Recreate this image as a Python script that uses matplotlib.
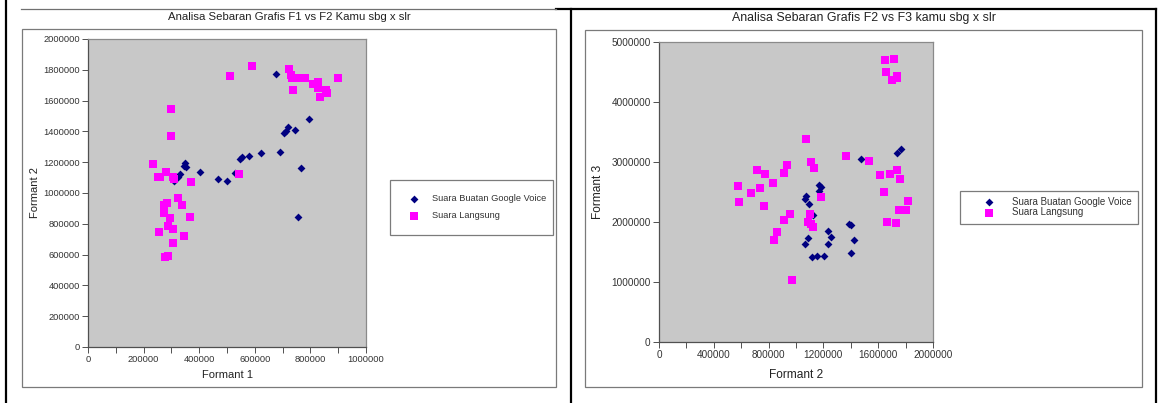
import numpy as np
import matplotlib.pyplot as plt
from matplotlib.lines import Line2D
from matplotlib.patches import Rectangle
from matplotlib.ticker import MultipleLocator, FormatStrFormatter

plt.rcParams['font.family'] = ['Liberation Sans', 'DejaVu Sans']

# ── F1 vs F2 (Kamu, sbg x slr) ────────────────────────────────────────────
google_f1 = [676000, 795000, 720000, 711000, 706000, 745000, 692000, 621000,
             578000, 555000, 548000, 766000, 528000, 501000, 466000, 402000,
             350000, 345000, 354000, 331000, 322000, 308000, 757000]
google_f2 = [1773000, 1481000, 1427000, 1403000, 1388000, 1407000, 1266000, 1262000,
             1242000, 1236000, 1219000, 1164000, 1130000, 1075000, 1091000, 1138000,
             1193000, 1177000, 1167000, 1123000, 1106000, 1075000, 847000]

langsung_f1 = [511000, 590000, 722000, 731000, 735000, 753000, 779000, 811000,
               828000, 827000, 835000, 855000, 861000, 899000, 739000, 299000,
               300000, 235000, 250000, 258000, 281000, 304000, 310000, 372000,
               544000, 325000, 339000, 272000, 283000, 275000, 295000, 368000,
               256000, 289000, 307000, 345000, 305000, 277000, 289000]
langsung_f2 = [1758000, 1823000, 1807000, 1766000, 1747000, 1747000, 1747000, 1710000,
               1723000, 1680000, 1621000, 1667000, 1649000, 1747000, 1671000, 1543000,
               1370000, 1188000, 1104000, 1104000, 1138000, 1106000, 1089000, 1074000,
               1125000, 970000, 925000, 922000, 937000, 867000, 840000, 844000,
               749000, 786000, 768000, 723000, 677000, 586000, 593000]

# ── F2 vs F3 ──────────────────────────────────────────────────────────────
google_x2 = [1472000, 1737000, 1766000, 1165000, 1182000, 1165000, 1075000, 1068000,
             1097000, 1122000, 1387000, 1401000, 1236000, 1258000, 1236000, 1085000,
             1066000, 1423000, 1119000, 1151000, 1207000, 1399000]
google_f3 = [3050000, 3144000, 3217000, 2622000, 2583000, 2522000, 2433000, 2383000,
             2300000, 2111000, 1961000, 1956000, 1850000, 1750000, 1639000, 1739000,
             1639000, 1706000, 1417000, 1433000, 1433000, 1483000]

langsung_x2 = [1652000, 1718000, 1657000, 1701000, 1737000, 1740000, 1071000, 1365000,
               1535000, 1107000, 1134000, 934000, 915000, 718000, 776000, 835000,
               579000, 740000, 672000, 586000, 764000, 1185000, 954000, 915000,
               1100000, 1090000, 1109000, 1127000, 861000, 839000, 968000, 1611000,
               1684000, 1737000, 1759000, 1645000, 1820000, 1754000, 1801000, 1662000,
               1732000]
langsung_f3 = [4706000, 4711000, 4506000, 4361000, 4440000, 4400000, 3378000, 3094000,
               3022000, 3006000, 2906000, 2950000, 2822000, 2867000, 2800000, 2650000,
               2606000, 2572000, 2478000, 2333000, 2267000, 2411000, 2128000, 2039000,
               2139000, 1994000, 1961000, 1922000, 1833000, 1700000, 1028000, 2783000,
               2800000, 2861000, 2722000, 2500000, 2356000, 2194000, 2206000, 2000000,
               1978000]

labels = ['Suara Buatan Google Voice', 'Suara Langsung']

W, H = 1160, 403
fig = plt.figure(figsize=(W / 100, H / 100), dpi=100)


def rect(x0, y0, x1, y1):
    # pixel box (top-left origin) -> figure fraction
    return [x0 / W, 1 - y1 / H, (x1 - x0) / W, (y1 - y0) / H]


def fx(x):
    return x / W


def fy(y):
    return 1 - y / H


# table borders around the two cells
for xs, ys, c, lw in [([fx(6), fx(6)], [fy(0), fy(403)], 'black', 1.6),
                      ([fx(571), fx(571)], [fy(8.7), fy(403)], 'black', 1.6),
                      ([fx(1156), fx(1156)], [fy(8.7), fy(403)], 'black', 1.6),
                      ([fx(556), fx(1156)], [fy(8.7), fy(8.7)], 'black', 1.6),
                      ([fx(21), fx(556)], [fy(8.7), fy(8.7)], '#707070', 0.9)]:
    fig.add_artist(Line2D(xs, ys, color=c, lw=lw, transform=fig.transFigure))

# chart area frames
for x0, y0, x1, y1 in [(21.7, 28.7, 555.7, 386.7), (585, 30, 1142, 386.7)]:
    b = rect(x0, y0, x1, y1)
    fig.add_artist(Rectangle((b[0], b[1]), b[2], b[3], transform=fig.transFigure,
                             facecolor='white', edgecolor='#7a7a7a', lw=0.9, zorder=0))


def style_axes(ax, tick_fs):
    ax.set_facecolor('#c8c8c8')
    for side in ['top', 'right']:
        ax.spines[side].set_color('#8a8a8a')
    for side in ['left', 'bottom']:
        ax.spines[side].set_color('#505050')
    for s in ax.spines.values():
        s.set_linewidth(0.9)
    ax.tick_params(which='both', direction='out', length=4, width=0.7,
                   color='#505050', labelsize=tick_fs, labelcolor='#333333', pad=2)
    ax.xaxis.set_major_formatter(FormatStrFormatter('%d'))
    ax.yaxis.set_major_formatter(FormatStrFormatter('%d'))


def add_legend(ax, anchor, fs, bp, ls, hl, htp):
    leg = ax.legend(labels, loc='upper left', bbox_to_anchor=anchor,
                    bbox_transform=fig.transFigure, mode='expand', fontsize=fs,
                    frameon=True, fancybox=False, borderpad=bp, labelspacing=ls,
                    handlelength=hl, handletextpad=htp, borderaxespad=0,
                    scatterpoints=1)
    leg.get_frame().set_edgecolor('#5a5a5a')
    leg.get_frame().set_linewidth(0.9)
    for t in leg.get_texts():
        t.set_color('#333333')
    return leg


# ── left: Formant 1 vs Formant 2 ──────────────────────────────────────────
ax1 = fig.add_axes(rect(88, 39, 366, 347))
style_axes(ax1, 6.7)
ax1.scatter(google_f1, google_f2, marker='D', s=16, color='#000080', lw=0, zorder=3)
ax1.scatter(langsung_f1, langsung_f2, marker='s', s=28, color='#ff00ff', lw=0, zorder=3)
ax1.set_xlim(0, 1000000)
ax1.set_ylim(0, 2000000)
ax1.xaxis.set_major_locator(MultipleLocator(200000))
ax1.xaxis.set_minor_locator(MultipleLocator(100000))
ax1.yaxis.set_major_locator(MultipleLocator(200000))
ax1.set_xlabel('Formant 1', fontsize=8, color='#222222')
ax1.set_ylabel('Formant 2', fontsize=8, color='#222222')
ax1.xaxis.set_label_coords(0.5, -0.075)
ax1.yaxis.set_label_coords((40 - 88) / 278, 0.5)
fig.text(fx(289), fy(17), 'Analisa Sebaran Grafis F1 vs F2 Kamu sbg x slr',
         ha='center', va='center', fontsize=8.2, color='#222222')
add_legend(ax1, (fx(390), fy(180), fx(553) - fx(390), 0.001), 6.7, 1.6, 0.86, 2.0, 0.9)

# ── right: Formant 2 vs Formant 3 ─────────────────────────────────────────
ax2 = fig.add_axes(rect(659, 42, 933, 342))
style_axes(ax2, 7.2)
ax2.scatter(google_x2, google_f3, marker='D', s=16, color='#000080', lw=0, zorder=3)
ax2.scatter(langsung_x2, langsung_f3, marker='s', s=28, color='#ff00ff', lw=0, zorder=3)
ax2.set_xlim(0, 2000000)
ax2.set_ylim(0, 5000000)
ax2.xaxis.set_major_locator(MultipleLocator(400000))
ax2.xaxis.set_minor_locator(MultipleLocator(200000))
ax2.yaxis.set_major_locator(MultipleLocator(1000000))
ax2.set_xlabel('Formant 2', fontsize=8.6, color='#222222')
ax2.set_ylabel('Formant 3', fontsize=8.6, color='#222222')
ax2.xaxis.set_label_coords(0.5, (342 - 369) / 300)
ax2.yaxis.set_label_coords((604 - 659) / 274, 0.5)
fig.text(fx(864), fy(18), 'Analisa Sebaran Grafis F2 vs F3 kamu sbg x slr',
         ha='center', va='center', fontsize=8.9, color='#222222')
add_legend(ax2, (fx(960), fy(191), fx(1138) - fx(960), 0.001), 7.0, 0.66, 0.05, 4.6, 0.05)

plt.savefig('out.png', dpi=100)
